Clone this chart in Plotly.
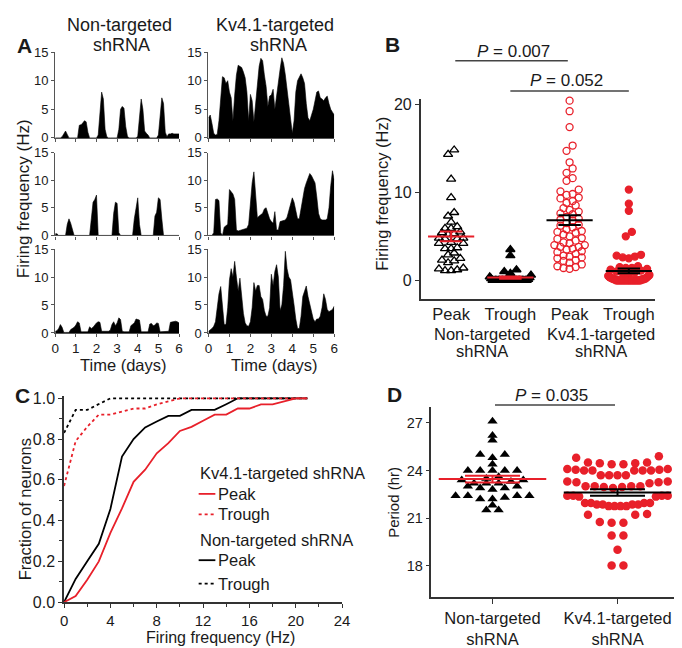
import numpy as np
import plotly.graph_objects as go

FONT = "Liberation Sans, Arial, Helvetica, sans-serif"
RED = "#e8202a"
INK = "#1a1a1a"
AX = "#333333"
W, H = 682, 648

# ---------------- Panel A: firing-rate records (2-h bins, day 0 .. day 6) ----------------
bin_hours = 2
nt_cell1 = [0, 0, 0, 0, 0.2, 0.8, 1.2, 0.6, 0, 0, 0, 0,
            0, 0, 2.2, 2.3, 2.6, 3.0, 2.8, 1.0, 0, 0, 0, 0,
            0, 0.5, 5.0, 8.0, 6.8, 1.5, 0.2, 0, 0, 0, 0, 0,
            0, 1.5, 5.0, 5.5, 5.2, 2.0, 0.3, 0, 0, 0, 0, 0,
            0.3, 4.0, 6.8, 5.0, 1.2, 0.8, 0.5, 0, 0, 0, 0, 0,
            0.5, 4.5, 7.0, 6.0, 1.0, 0.2, 0.7, 0.7, 0.8, 0.7, 0.7, 0.8,
            0.7]
nt_cell2 = [0.3, 0.3, 0, 0, 0, 0, 0, 2.0, 3.0, 2.2, 0.8, 0,
            0, 0, 0, 0, 0, 0, 0, 0, 0, 3.0, 6.0, 6.5,
            7.3, 0, 0, 0, 0, 0, 0, 0, 0, 0, 4.0, 6.0,
            5.8, 0.5, 0, 0, 0, 0, 0, 0, 0, 0, 3.0, 5.0,
            6.8, 2.0, 0, 0, 0, 0, 0, 0, 0, 0, 3.5, 4.2,
            6.8, 6.5, 3.0, 0, 0, 0, 0, 0, 0, 0, 0, 0,
            0]
nt_cell3 = [0.3, 0.4, 0.8, 1.5, 1.0, 0.1, 0.1, 0.1, 0.1, 0.6, 0.8, 1.0,
            1.4, 2.0, 1.8, 0.2, 0.2, 0.2, 0.2, 0.2, 1.1, 0.8, 1.0, 1.5,
            1.8, 2.0, 1.9, 0.3, 0.3, 0.3, 0.3, 0.3, 0.5, 1.5, 2.0, 1.3,
            1.8, 2.7, 2.4, 0.3, 0.2, 0.2, 0.2, 0.2, 1.3, 1.6, 1.8, 2.5,
            2.4, 2.3, 0.2, 0.2, 0.2, 0.2, 0.2, 1.6, 1.7, 1.3, 1.4, 1.8,
            1.7, 0.2, 0.2, 0.2, 0.2, 0.2, 0.3, 1.9, 2.0, 2.0, 2.1, 2.0,
            1.8]
kv_cell1 = [3.5, 4.0, 2.5, 0.8, 0.5, 0.6, 3.0, 7.0, 10.7, 10.5, 9.5, 10.0,
            8.0, 7.0, 3.0, 7.5, 11.0, 12.7, 12.5, 12.3, 11.5, 10.5, 8.0, 3.0,
            7.6, 6.5, 2.8, 6.0, 10.0, 12.5, 13.9, 13.5, 11.0, 9.0, 5.5, 7.3,
            7.5, 8.5, 5.0, 7.5, 10.5, 12.0, 14.0, 13.0, 11.0, 8.5, 6.0, 3.0,
            0.8, 3.0, 8.0, 10.0, 10.5, 11.2, 10.5, 9.5, 6.0, 3.5, 3.0, 4.0,
            5.0, 6.5, 8.0, 8.2, 7.0, 6.8, 6.5, 7.0, 7.3, 6.0, 5.0, 4.5,
            4.0]
kv_cell2 = [0, 0, 0, 0.5, 6.5, 6.6, 6.3, 0.5, 0, 1.5, 1.7, 2.0,
            8.3, 7.8, 7.5, 6.5, 1.0, 0.8, 0.9, 0.9, 1.0, 1.2, 1.3, 2.0,
            6.5, 9.5, 11.5, 8.0, 3.2, 3.5, 3.8, 4.0, 4.8, 5.0, 4.0, 3.0,
            2.5, 2.2, 4.3, 1.0, 1.0, 2.5, 2.6, 2.7, 2.8, 3.3, 4.5, 5.5,
            6.8, 6.0, 4.5, 3.0, 3.0, 5.0, 7.0, 8.5, 9.5, 10.5, 11.2, 10.8,
            10.0, 9.5, 7.0, 4.0, 3.0, 2.8, 2.8, 2.8, 3.0, 5.0, 9.0, 11.7,
            10.0]
kv_cell3 = [0.3, 0.5, 0.8, 1.2, 2.0, 4.5, 7.0, 8.3, 5.5, 1.5, 1.5, 4.5,
            9.5, 11.5, 10.0, 12.8, 10.0, 7.5, 9.8, 6.5, 3.5, 1.8, 1.3, 1.2,
            2.0, 4.5, 9.0, 7.5, 8.5, 8.5, 6.5, 6.0, 4.0, 3.0, 3.0, 4.5,
            10.5, 8.5, 11.0, 12.2, 10.0, 4.0, 5.0, 8.5, 14.6, 11.5, 10.0, 9.5,
            7.5, 5.0, 2.5, 0.8, 0.8, 3.0, 6.5, 7.4, 8.4, 6.5, 5.0, 3.5,
            2.5, 2.0, 2.5, 2.5, 3.0, 4.5, 7.0, 6.0, 4.2, 3.8, 4.0, 4.2,
            4.8]
day_ticks = [0, 1, 2, 3, 4, 5, 6]
rate_ticks = [0, 5, 10, 15]

# ---------------- Panel B: peak / trough firing frequency (Hz) ----------------
b_categories = ["Peak", "Trough", "Peak", "Trough"]
nt_peak = [14.8, 14.3, 11.5, 9.4, 7.7, 7.3, 6.6, 6.1, 5.9, 5.9, 5.5, 5.4, 5.3, 5.2,
           4.8, 4.8, 4.7, 4.7, 4.3, 4.2, 4.2, 3.7, 3.6, 3.6, 3.1, 2.9, 2.5, 2.3,
           2.2, 2.0, 1.4, 1.3, 1.2, 1.1, 1.1]
nt_trough = [3.5, 2.8, 1.2, 1.0, 0.8, 0.6, 0.4, 0.3, 0.2, 0.1,
             0, 0, 0, 0, 0, 0, 0, 0, 0, 0, 0, 0, 0, 0, 0, 0, 0, 0, 0, 0, 0, 0, 0, 0, 0]
kv_peak = [20.4, 19.2, 17.4, 15.3, 14.7, 13.4, 12.7, 12.2, 11.6, 11.3, 10.3, 10.1,
           9.8, 9.7, 9.4, 9.3, 9.0, 8.8, 8.5, 8.2, 8.0, 7.8, 7.6, 7.5, 7.2, 7.0,
           6.9, 6.8, 6.5, 6.3, 6.2, 6.0, 5.8, 5.6, 5.5, 5.4, 5.2, 5.0, 4.8, 4.7,
           4.5, 4.3, 4.2, 4.0, 4.0, 3.8, 3.8, 3.6, 3.5, 3.3, 3.2, 3.0, 2.8, 2.7,
           2.6, 2.5, 2.3, 2.2, 2.0, 1.8, 1.6, 1.5, 1.4, 1.3]
kv_trough = [10.3, 8.7, 7.9, 5.5, 5.0, 2.9, 2.8, 2.7, 2.6, 2.5,
             1.6, 1.5, 1.4, 1.4, 1.3, 1.2, 1.1, 1.0, 0.9, 0.8, 0.7, 0.6,
             0.5, 0.5, 0.4, 0.4, 0.3, 0.3, 0.3, 0.2, 0.2, 0.2, 0.2,
             0.1, 0.1, 0.1, 0.1, 0.1,
             0, 0, 0, 0, 0, 0, 0, 0, 0, 0, 0, 0, 0, 0, 0, 0, 0, 0, 0, 0, 0, 0, 0, 0, 0, 0]

# ---------------- Panel C: cumulative fraction of neurons ----------------
freq_hz = [0, 1, 2, 3, 4, 5, 6, 7, 8, 9, 10, 11, 12, 13, 14, 15, 16, 17, 18, 19, 20, 21]
kv_peak_cdf = [0, 0.03, 0.11, 0.20, 0.34, 0.46, 0.59, 0.65, 0.73, 0.78, 0.84, 0.86,
               0.89, 0.92, 0.92, 0.95, 0.95, 0.97, 0.97, 0.985, 1.0, 1.0]
kv_trough_cdf = [0.57, 0.79, 0.86, 0.92, 0.92, 0.935, 0.95, 0.95, 0.97, 0.985, 1.0, 1.0,
                 1.0, 1.0, 1.0, 1.0, 1.0, 1.0, 1.0, 1.0, 1.0, 1.0]
nt_peak_cdf = [0, 0.114, 0.20, 0.286, 0.457, 0.714, 0.80, 0.857, 0.886, 0.914, 0.914, 0.943,
               0.943, 0.943, 0.971, 1.0, 1.0, 1.0, 1.0, 1.0, 1.0, 1.0]
nt_trough_cdf = [0.83, 0.943, 0.943, 0.971, 1.0, 1.0, 1.0, 1.0, 1.0, 1.0, 1.0, 1.0,
                 1.0, 1.0, 1.0, 1.0, 1.0, 1.0, 1.0, 1.0, 1.0, 1.0]

# ---------------- Panel D: circadian period (hr) ----------------
d_categories = ["Non-targeted<br>shRNA", "Kv4.1-targeted<br>shRNA"]
nt_period = [27.1, 26.2, 25.9, 25.0, 25.0, 24.8, 24.4, 24.0, 24.0, 24.0, 24.0, 24.0,
             23.5, 23.6, 23.4, 23.4, 23.3, 23.2, 23.2, 23.2,
             23.0, 22.9, 22.8, 22.9, 23.0,
             22.4, 22.4, 22.3, 22.4, 22.4, 22.2, 22.2,
             21.8, 21.5, 21.5]
kv_period = [24.8, 24.9,
             24.45, 24.4, 24.5, 24.4, 24.5, 24.45,
             24.0, 24.0, 24.0, 24.0, 24.0, 24.05, 24.05, 24.1, 24.1,
             23.7, 23.7, 23.7, 23.7, 23.3, 23.3, 23.25, 23.25, 23.2,
             23.0, 23.0, 23.0, 23.0, 22.95, 22.95, 22.9,
             22.4, 22.4, 22.4, 22.35, 22.35, 22.4,
             21.95, 21.95, 21.95, 21.95, 21.85, 21.85, 21.85, 21.85, 21.75, 21.75, 21.75, 21.75,
             21.2, 21.2, 21.25, 20.7, 20.75, 20.7, 19.9, 19.9, 19.0, 18.0, 18.0]


# ---------------- helpers ----------------
def xd(a, b):
    return [a / W, b / W]


def yd(top, bottom):
    return [1 - bottom / H, 1 - top / H]


def swarm(values, row_size, spacing_px, max_width_px, px_per_unit):
    """Prism-like scatter: group close values into rows, spread each row about the centre
    (lowest values of a row in the middle, higher ones towards the edges)."""
    vals = np.asarray(values, float)
    order = np.argsort(vals, kind="stable")
    rows, cur, start = [], [], None
    for i in order:
        if start is None or vals[i] - start >= row_size:
            if cur:
                rows.append(cur)
            cur, start = [i], vals[i]
        else:
            cur.append(i)
    if cur:
        rows.append(cur)
    off = np.zeros(len(vals))
    for row in rows:
        n = len(row)
        if n == 1:
            continue
        s = min(spacing_px, max_width_px / (n - 1))
        slots = sorted(range(n), key=lambda k: (abs(k - (n - 1) / 2), k))
        for j, k in enumerate(slots):
            off[row[j]] = (k - (n - 1) / 2) * s / px_per_unit
    return off


def mean_sem_trace(groups, positions, colors, half_mean, half_cap, xa, ya, width=2):
    traces = []
    for vals, pos, col in zip(groups, positions, colors):
        v = np.asarray(vals, float)
        m = v.mean()
        sem = v.std(ddof=1) / np.sqrt(len(v))
        xs = [pos - half_mean, pos + half_mean, None,
              pos, pos, None,
              pos - half_cap, pos + half_cap, None,
              pos - half_cap, pos + half_cap]
        ys = [m, m, None, m - sem, m + sem, None, m + sem, m + sem, None, m - sem, m - sem]
        traces.append(go.Scatter(x=xs, y=ys, mode="lines", xaxis=xa, yaxis=ya,
                                 line=dict(color=col, width=width), hoverinfo="skip"))
    return traces


def base_axis(**kw):
    d = dict(showgrid=False, zeroline=False, showline=True, linecolor=AX, linewidth=1.5,
             ticks="outside", ticklen=4, tickwidth=1.2, tickcolor=AX,
             tickfont=dict(family=FONT, size=16, color=INK), fixedrange=True)
    d.update(kw)
    return d


fig = go.Figure()
layout = dict(width=W, height=H, margin=dict(l=0, r=0, t=0, b=0),
              paper_bgcolor="white", plot_bgcolor="white", showlegend=False,
              font=dict(family=FONT, size=16, color=INK))
annotations = []
shapes = []


def text(x, y, s, size=16.5, anchor="center", angle=0, bold=False):
    annotations.append(dict(x=x / W, y=1 - y / H, xref="paper", yref="paper",
                            text=(f"<b>{s}</b>" if bold else s),
                            showarrow=False, xanchor=anchor, yanchor="middle", textangle=angle,
                            borderpad=0, font=dict(family=FONT, size=size, color=INK)))


# ---------------- Panel A ----------------
cells = [[nt_cell1, kv_cell1], [nt_cell2, kv_cell2], [nt_cell3, kv_cell3]]
cols_px = [(44, 170), (200, 328)]
rows_px = [(38, 126), (141, 226), (240, 326)]
n = 0
for r in range(3):
    for c in range(2):
        n += 1
        vals = cells[r][c]
        t_days = [i * bin_hours / 24 for i in range(len(vals))]
        xa = "x" if n == 1 else f"x{n}"
        ya = "y" if n == 1 else f"y{n}"
        fig.add_trace(go.Scatter(x=t_days, y=vals, mode="lines", fill="tozeroy",
                                 fillcolor="black", line=dict(color="black", width=0.6),
                                 xaxis=xa, yaxis=ya, hoverinfo="skip"))
        layout["xaxis" if n == 1 else f"xaxis{n}"] = base_axis(
            domain=xd(*cols_px[c]), range=[0, 6], anchor=ya, tickvals=day_ticks,
            showticklabels=(r == 2), linecolor="#555", tickcolor="#555", linewidth=1.2,
            ticklen=3, tickfont=dict(family=FONT, size=13.5, color=INK))
        layout["yaxis" if n == 1 else f"yaxis{n}"] = base_axis(
            domain=yd(*rows_px[r]), range=[0, 15], anchor=xa, tickvals=rate_ticks,
            linecolor="#555", tickcolor="#555", linewidth=1.2, ticklen=3,
            tickfont=dict(family=FONT, size=13, color=INK))

# ---------------- Panel B ----------------
B_PPU = 60.3
b_groups = [nt_peak, nt_trough, kv_peak, kv_trough]
b_symbols = ["triangle-up-open", "triangle-up", "circle-open", "circle"]
b_colors = ["black", "black", RED, RED]
b_sizes = [8, 8, 7, 7]
for g, (vals, sym, col, sz) in enumerate(zip(b_groups, b_symbols, b_colors, b_sizes)):
    off = swarm(vals, 0.62, 6.2, 42, B_PPU)
    fig.add_trace(go.Scatter(x=g + off, y=vals, mode="markers", xaxis="x7", yaxis="y7",
                             marker=dict(symbol=sym, size=sz, color=col,
                                         line=dict(color=col, width=1.3)),
                             hoverinfo="skip", cliponaxis=False))
for tr in mean_sem_trace(b_groups, [0, 1, 2, 3], [RED, RED, "black", "black"], 0.39, 0.19, "x7", "y7"):
    fig.add_trace(tr)
layout["xaxis7"] = base_axis(domain=xd(416, 655), range=[-0.514, 3.45], anchor="y7",
                             tickvals=[0, 1, 2, 3], ticktext=b_categories, ticks="",
                             tickfont=dict(family=FONT, size=16.5, color=INK))
layout["yaxis7"] = base_axis(domain=yd(86, 291), range=[-2.1, 20.6], anchor="x7",
                             tickvals=[0, 10, 20], tickfont=dict(family=FONT, size=16, color=INK))

# ---------------- Panel C ----------------
c_series = [(nt_peak_cdf, "black", "solid"), (nt_trough_cdf, "black", "dot"),
            (kv_peak_cdf, RED, "solid"), (kv_trough_cdf, RED, "dot")]
for ys, col, dash in c_series:
    fig.add_trace(go.Scatter(x=freq_hz, y=ys, mode="lines", xaxis="x8", yaxis="y8",
                             line=dict(color=col, width=1.8, dash=dash), hoverinfo="skip"))
layout["xaxis8"] = base_axis(domain=xd(53, 336), range=[0, 24], anchor="y8",
                             tickvals=[0, 4, 8, 12, 16, 20, 24],
                             tickfont=dict(family=FONT, size=15, color=INK),
                             minor=dict(dtick=2, tick0=0, ticks="outside", ticklen=3, tickcolor=AX))
layout["yaxis8"] = base_axis(domain=yd(390.5, 602), range=[0, 1.012], anchor="x8",
                             tickvals=[0, 0.2, 0.4, 0.6, 0.8, 1.0], tickformat=".1f",
                             minor=dict(dtick=0.1, tick0=0, ticks="outside", ticklen=3, tickcolor=AX))

# legend of panel C
text(190, 470, "Kv4.1-targeted shRNA", 16.5, anchor="left")
text(190, 538, "Non-targeted shRNA", 16.5, anchor="left")
for yy, label, col, dash in [(491, "Peak", RED, "solid"), (512, "Trough", RED, "dot"),
                             (559, "Peak", "black", "solid"), (583, "Trough", "black", "dot")]:
    shapes.append(dict(type="line", xref="paper", yref="paper", x0=190 / W, x1=207 / W,
                       y0=1 - yy / H, y1=1 - yy / H, line=dict(color=col, width=1.8, dash=dash)))
    text(209, yy, label, 16.5, anchor="left")

# ---------------- Panel D ----------------
D_PPU = 127.0
d_groups = [nt_period, kv_period]
d_symbols = ["triangle-up", "circle"]
d_colors = ["black", RED]
d_sizes = [9, 8.5]
d_rows = [0.25, 0.65]
d_space = [12.5, 12.0]
d_maxw = [100, 102]
for g, (vals, sym, col, sz) in enumerate(zip(d_groups, d_symbols, d_colors, d_sizes)):
    off = swarm(vals, d_rows[g], d_space[g], d_maxw[g], D_PPU)
    fig.add_trace(go.Scatter(x=g + off, y=vals, mode="markers", xaxis="x9", yaxis="y9",
                             marker=dict(symbol=sym, size=sz, color=col, line=dict(width=0)),
                             hoverinfo="skip"))
for tr in mean_sem_trace(d_groups, [0, 1], [RED, "black"], 0.43, 0.22, "x9", "y9"):
    fig.add_trace(tr)
layout["xaxis9"] = base_axis(domain=xd(427, 680), range=[-0.488, 1.50], anchor="y9",
                             tickvals=[0, 1], ticktext=d_categories, ticklen=5,
                             tickfont=dict(family=FONT, size=16.5, color=INK))
layout["yaxis9"] = base_axis(domain=yd(402, 597), range=[16, 28], anchor="x9",
                             tickvals=[18, 21, 24, 27], tickfont=dict(family=FONT, size=14.5, color=INK))

# ---------------- significance brackets ----------------
for xa, x0, x1, yy in [("x7", 0.07, 1.97, 47), ("x7", 1.0, 3.0, 78), ("x9", 0.02, 0.98, 400)]:
    shapes.append(dict(type="line", xref=xa, yref="paper", x0=x0, x1=x1,
                       y0=1 - yy / H, y1=1 - yy / H, line=dict(color="#444", width=1.5)))
text(510, 37, "<i>P</i> = 0.007", 17)
text(564, 67, "<i>P</i> = 0.052", 17)
text(549, 390, "<i>P</i> = 0.035", 17)

# ---------------- titles / labels ----------------
text(13, 31, "A", 21, bold=True)
text(387, 30, "B", 21, bold=True)
text(11, 390, "C", 21, bold=True)
text(389, 389, "D", 21, bold=True)
text(109, 10, "Non-targeted", 18)
text(111, 31, "shRNA", 18)
text(268, 10, "Kv4.1-targeted", 18)
text(271, 31, "shRNA", 18)
text(113, 359, "Time (days)", 16.5)
text(267, 359, "Time (days)", 16.5)
text(12, 188, "Firing frequency (Hz)", 17, angle=-90)
text(377, 183, "Firing frequency (Hz)", 16.5, angle=-90)
text(478, 327, "Non-targeted", 16.5)
text(478, 345, "shRNA", 16.5)
text(600, 327, "Kv4.1-targeted", 16.5)
text(600, 345, "shRNA", 16.5)
text(14, 507, "Fraction of neurons", 16.5, angle=-90)
text(212, 638, "Firing frequency (Hz)", 16)
text(388, 500, "Period (hr)", 15, angle=-90)

layout["annotations"] = annotations
layout["shapes"] = shapes
fig.update_layout(**layout)
fig.write_html("out.html")
